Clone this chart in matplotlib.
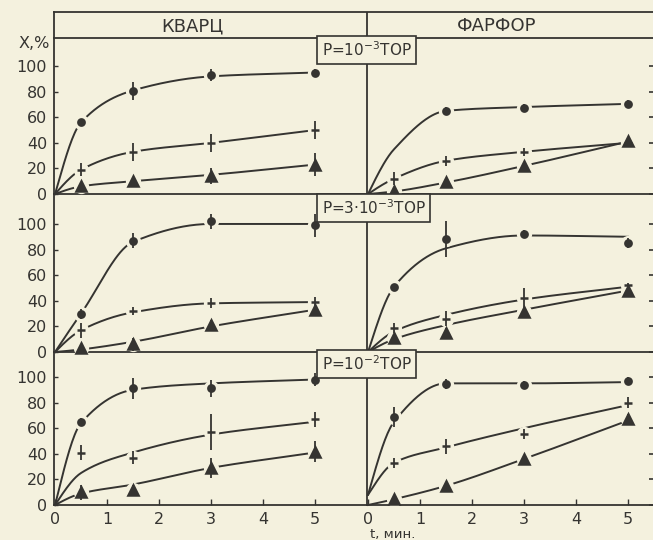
import numpy as np
import matplotlib.pyplot as plt

# time points (min) where measurements were taken
t_pts = [0.5, 1.5, 3, 5]
# knots of the hand-drawn curves
t_fit = [0, 0.5, 1.5, 3, 5]
x_ticks = [0, 1, 2, 3, 4, 5]
y_ticks = [0, 20, 40, 60, 80, 100]

columns = ['КВАРЦ', 'ФАРФОР']
pressures = ['P=10$^{-3}$ТОР', 'P=3·10$^{-3}$ТОР', 'P=10$^{-2}$ТОР']

# each panel: rows = [circles, crosses, triangles]
quartz_p1_y = [[56, 80.5, 93, 95], [19, 32.5, 40, 50], [6, 10, 14, 23]]
quartz_p1_err = [[2, 7, 5, 3], [5, 7, 7, 7], [3, 3, 6, 9]]
quartz_p1_fit = [[0, 56, 81, 92, 95], [0, 19, 33, 40, 50], [0, 6, 10, 15, 23]]

porc_p1_y = [[np.nan, 65, 67.5, 70.5], [12, 26, 33, 40], [2, 9, 22, 41.5]]
porc_p1_err = [[0, 3, 3, 3], [5, 4, 3, 3], [2, 3, 3, 3]]
porc_p1_fit = [[0, 35, 65, 68, 70.5], [0, 12, 26, 33, 40], [0, 2, 9, 22, 41]]

quartz_p3_y = [[29.5, 87, 102, 99], [17, 32, 38.5, 39], [3, 6, 21, 33]]
quartz_p3_err = [[4, 6, 6, 9], [6, 3, 4, 4], [3, 5, 4, 4]]
quartz_p3_fit = [[0, 30, 86, 100, 100], [0, 17, 31, 38, 39], [0, 2, 8, 20, 33]]

porc_p3_y = [[51, 88, 92, 85], [18.6, 26, 42, 52], [11, 15, 31.5, 47.5]]
porc_p3_err = [[0, 14, 3, 4], [4, 6, 8, 2], [2, 4, 3, 3]]
porc_p3_fit = [[0, 51, 81, 91, 90], [0, 16, 29, 41, 51], [0, 10, 21, 33, 48]]

quartz_p10_y = [[64.6, 91, 91, 98], [41, 37, 57, 67], [10, 12, 29, 41.6]]
quartz_p10_err = [[3, 8, 7, 5], [6, 5, 14, 6], [6, 4, 8, 8]]
quartz_p10_fit = [[0, 64, 90, 95, 98], [0, 25, 41, 55, 65], [0, 9, 16, 29, 41]]

porc_p10_y = [[68.6, 94.8, 93.5, 96.6], [33, 45.8, 55.5, 80], [4.5, 15, 36, 67]]
porc_p10_err = [[8, 4, 3, 3], [4, 6, 4, 4], [3, 3, 3, 4]]
porc_p10_fit = [[8, 65, 95, 95, 96], [8, 33, 45, 60, 78], [0, 4.5, 15, 36, 66]]

panels = [
    [(quartz_p1_y, quartz_p1_err, quartz_p1_fit), (porc_p1_y, porc_p1_err, porc_p1_fit)],
    [(quartz_p3_y, quartz_p3_err, quartz_p3_fit), (porc_p3_y, porc_p3_err, porc_p3_fit)],
    [(quartz_p10_y, quartz_p10_err, quartz_p10_fit), (porc_p10_y, porc_p10_err, porc_p10_fit)],
]

ink = '#353431'
bg = '#f4f1de'
W, H = 653, 540


def rect(x0, y0, x1, y1):
    return [x0 / W, 1 - y1 / H, (x1 - x0) / W, (y1 - y0) / H]


def smooth(xk, yk, n=200):
    # monotone cubic (Fritsch-Carlson) through the curve knots, for drawing only
    xk = np.asarray(xk, float)
    yk = np.asarray(yk, float)
    h = np.diff(xk)
    d = np.diff(yk) / h
    m = np.zeros_like(yk)
    for i in range(1, len(xk) - 1):
        if d[i - 1] * d[i] <= 0:
            m[i] = 0
        else:
            w1 = 2 * h[i] + h[i - 1]
            w2 = h[i] + 2 * h[i - 1]
            m[i] = (w1 + w2) / (w1 / d[i - 1] + w2 / d[i])
    m0 = ((2 * h[0] + h[1]) * d[0] - h[0] * d[1]) / (h[0] + h[1])
    if np.sign(m0) != np.sign(d[0]):
        m0 = 0
    m[0] = m0
    m[-1] = d[-1]
    xs = np.linspace(xk[0], xk[-1], n)
    idx = np.clip(np.searchsorted(xk, xs) - 1, 0, len(xk) - 2)
    s = (xs - xk[idx]) / h[idx]
    h00 = 2 * s**3 - 3 * s**2 + 1
    h10 = s**3 - 2 * s**2 + s
    h01 = -2 * s**3 + 3 * s**2
    h11 = s**3 - s**2
    ys = h00 * yk[idx] + h10 * h[idx] * m[idx] + h01 * yk[idx + 1] + h11 * h[idx] * m[idx + 1]
    return xs, ys


plt.rcParams['font.family'] = 'DejaVu Sans'
fig = plt.figure(figsize=(W / 100, H / 100), dpi=100, facecolor=bg)

# header band with the material names
hdr = fig.add_axes(rect(54, 12, 653, 38))
hdr.set_facecolor(bg)
hdr.set_xlim(0, 1)
hdr.set_ylim(0, 1)
hdr.set_xticks([])
hdr.set_yticks([])
for side in ['top', 'bottom', 'left']:
    hdr.spines[side].set_color(ink)
    hdr.spines[side].set_linewidth(1.3)
hdr.spines['right'].set_visible(False)
hdr.axvline((367 - 54) / (653 - 54), color=ink, lw=1.3)

rows_px = [(38, 194, 122), (194, 352, 123.4), (352, 505, 119.5)]
cols_px = [(54, 367, 6.0), (367, 653, 5.48)]
markers = [('o', 4.5), ('_', 6), ('^', 6.5)]

for r, (ytop, ybot, ymax) in enumerate(rows_px):
    for c, (xl, xr, xmax) in enumerate(cols_px):
        ax = fig.add_axes(rect(xl, ytop, xr, ybot))
        ax.set_facecolor('none')
        ax.set_xlim(-0.02, xmax)
        ax.set_ylim(0, ymax)
        for side in ax.spines:
            ax.spines[side].set_color(ink)
            ax.spines[side].set_linewidth(1.3)
        ax.spines['top'].set_visible(False)
        ax.spines['right'].set_visible(False)

        y_all, err_all, fit_all = panels[r][c]
        for k in range(3):
            xs, ys = smooth(t_fit, fit_all[k])
            ax.plot(xs, ys, color=ink, lw=1.4, zorder=2, clip_on=False)
            # paper-coloured halo breaks the line around each point
            ax.plot(t_pts, y_all[k], ls='none', marker='o', ms=11,
                    mfc=bg, mec='none', zorder=3, clip_on=False)
            mk, ms = markers[k]
            ax.errorbar(t_pts, y_all[k], yerr=err_all[k], fmt=mk, ms=ms,
                        color=ink, mfc=ink, mec=ink, mew=1.8, elinewidth=1.3,
                        capsize=0, zorder=4, clip_on=False)

        ax.set_yticks(y_ticks)
        if c == 0:
            ax.tick_params(axis='y', direction='in', length=3, width=1,
                           color=ink, labelcolor=ink, labelsize=11.5, pad=5)
        else:
            ax.tick_params(axis='y', left=False, right=True, labelleft=False,
                           direction='in', length=3, width=1.2, color=ink)
        ax.set_xticks(x_ticks)
        if r == 2:
            ax.tick_params(axis='x', direction='in', length=4, width=1,
                           color=ink, labelcolor=ink, labelsize=11.5, pad=5)
        else:
            ax.tick_params(axis='x', bottom=False, labelbottom=False)

for c, (name, xc) in enumerate(zip(columns, [192, 497])):
    fig.text(xc / W, 1 - 26 / H, name, ha='center', va='center',
             fontsize=13, color=ink)

for label, yc in zip(pressures, [50, 208, 364]):
    fig.text(322 / W, 1 - yc / H, label, ha='left', va='center',
             fontsize=11, color=ink,
             bbox=dict(boxstyle='square,pad=0.3', fc=bg, ec=ink, lw=1.2))

fig.text(50 / W, 1 - 44 / H, 'X,%', ha='right', va='center',
         fontsize=11.5, color=ink)
fig.text(370 / W, 1 - 538 / H, 't, мин.', ha='left', va='baseline',
         fontsize=9.5, color=ink)

fig.savefig('out.png', dpi=100, facecolor=bg)
